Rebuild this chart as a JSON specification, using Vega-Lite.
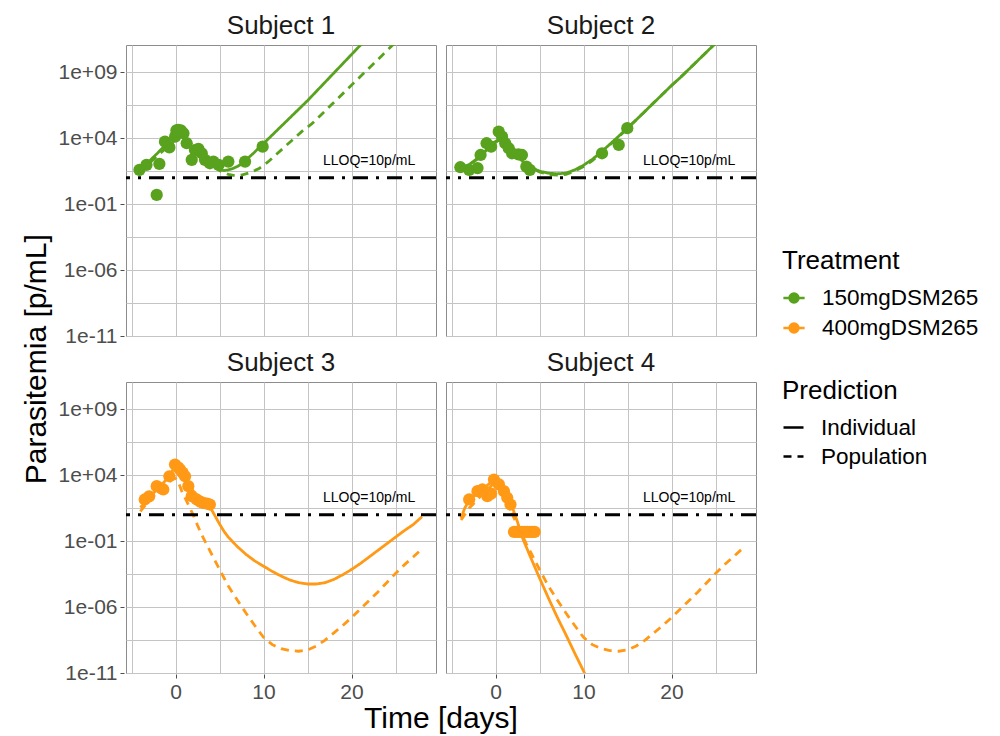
{
  "$schema": "https://vega.github.io/schema/vega-lite/v6.json",
  "background": "white",
  "padding": {"left": 22, "top": 12, "right": 5, "bottom": 0},
  "autosize": {"type": "pad"},
  "title": {"text": "Parasitemia [p/mL]", "orient": "left", "anchor": "middle", "fontSize": 30, "fontWeight": "normal", "color": "#000000", "offset": 6, "dx": 14, "font": "Liberation Sans"},
  "config": {
    "font": "Liberation Sans",
    "view": {"stroke": "#8c8c8c", "strokeWidth": 1},
    "axis": {"domain": false, "labelFontSize": 21, "labelColor": "#4d4d4d", "tickColor": "#4d4d4d", "tickSize": 4, "labelPadding": 3, "titleFontSize": 30, "titleFontWeight": "normal", "titleColor": "#000000", "gridColor": "#c4c4c4", "gridWidth": 1},
    "legend": {"titleFontSize": 26, "titleFontWeight": "normal", "titleColor": "#000000", "labelFontSize": 22.5, "labelColor": "#000000", "rowPadding": 6, "titlePadding": 12, "labelOffset": 16}
  },
  "data": {"values": [
    {"s":"Subject 1","t":"150mgDSM265","k":"obs","d":-4.1,"v":40},
    {"s":"Subject 1","t":"150mgDSM265","k":"obs","d":-3.3,"v":95},
    {"s":"Subject 1","t":"150mgDSM265","k":"obs","d":-1.84,"v":112},
    {"s":"Subject 1","t":"150mgDSM265","k":"obs","d":-2.14,"v":0.5},
    {"s":"Subject 1","t":"150mgDSM265","k":"obs","d":-1.2,"v":5500},
    {"s":"Subject 1","t":"150mgDSM265","k":"obs","d":-0.7,"v":2000},
    {"s":"Subject 1","t":"150mgDSM265","k":"obs","d":-0.05,"v":13200},
    {"s":"Subject 1","t":"150mgDSM265","k":"obs","d":0.1,"v":40000},
    {"s":"Subject 1","t":"150mgDSM265","k":"obs","d":0.3,"v":42700},
    {"s":"Subject 1","t":"150mgDSM265","k":"obs","d":0.6,"v":40000},
    {"s":"Subject 1","t":"150mgDSM265","k":"obs","d":0.9,"v":24000},
    {"s":"Subject 1","t":"150mgDSM265","k":"obs","d":1.27,"v":4170},
    {"s":"Subject 1","t":"150mgDSM265","k":"obs","d":1.84,"v":229},
    {"s":"Subject 1","t":"150mgDSM265","k":"obs","d":2.2,"v":1260},
    {"s":"Subject 1","t":"150mgDSM265","k":"obs","d":2.6,"v":1585},
    {"s":"Subject 1","t":"150mgDSM265","k":"obs","d":2.98,"v":724},
    {"s":"Subject 1","t":"150mgDSM265","k":"obs","d":3.35,"v":229},
    {"s":"Subject 1","t":"150mgDSM265","k":"obs","d":3.9,"v":126},
    {"s":"Subject 1","t":"150mgDSM265","k":"obs","d":4.3,"v":170},
    {"s":"Subject 1","t":"150mgDSM265","k":"obs","d":4.9,"v":95},
    {"s":"Subject 1","t":"150mgDSM265","k":"obs","d":6.0,"v":170},
    {"s":"Subject 1","t":"150mgDSM265","k":"obs","d":7.9,"v":170},
    {"s":"Subject 1","t":"150mgDSM265","k":"obs","d":9.9,"v":2290},

    {"s":"Subject 1","t":"150mgDSM265","k":"pred","p":"Individual","d":-4.1,"v":35.5},
    {"s":"Subject 1","t":"150mgDSM265","k":"pred","p":"Individual","d":-3.5,"v":79.4},
    {"s":"Subject 1","t":"150mgDSM265","k":"pred","p":"Individual","d":-3.0,"v":178},
    {"s":"Subject 1","t":"150mgDSM265","k":"pred","p":"Individual","d":-2.0,"v":794},
    {"s":"Subject 1","t":"150mgDSM265","k":"pred","p":"Individual","d":-1.0,"v":3981},
    {"s":"Subject 1","t":"150mgDSM265","k":"pred","p":"Individual","d":-0.3,"v":12590},
    {"s":"Subject 1","t":"150mgDSM265","k":"pred","p":"Individual","d":0.3,"v":22390},
    {"s":"Subject 1","t":"150mgDSM265","k":"pred","p":"Individual","d":0.8,"v":15850},
    {"s":"Subject 1","t":"150mgDSM265","k":"pred","p":"Individual","d":1.5,"v":3981},
    {"s":"Subject 1","t":"150mgDSM265","k":"pred","p":"Individual","d":2.0,"v":1585},
    {"s":"Subject 1","t":"150mgDSM265","k":"pred","p":"Individual","d":3.0,"v":316},
    {"s":"Subject 1","t":"150mgDSM265","k":"pred","p":"Individual","d":4.0,"v":89.1},
    {"s":"Subject 1","t":"150mgDSM265","k":"pred","p":"Individual","d":5.0,"v":39.8},
    {"s":"Subject 1","t":"150mgDSM265","k":"pred","p":"Individual","d":5.5,"v":35.5},
    {"s":"Subject 1","t":"150mgDSM265","k":"pred","p":"Individual","d":6.0,"v":39.8},
    {"s":"Subject 1","t":"150mgDSM265","k":"pred","p":"Individual","d":6.5,"v":50.1},
    {"s":"Subject 1","t":"150mgDSM265","k":"pred","p":"Individual","d":7.0,"v":70.8},
    {"s":"Subject 1","t":"150mgDSM265","k":"pred","p":"Individual","d":7.5,"v":112},
    {"s":"Subject 1","t":"150mgDSM265","k":"pred","p":"Individual","d":8.0,"v":224},
    {"s":"Subject 1","t":"150mgDSM265","k":"pred","p":"Individual","d":8.5,"v":447},
    {"s":"Subject 1","t":"150mgDSM265","k":"pred","p":"Individual","d":9.0,"v":891},
    {"s":"Subject 1","t":"150mgDSM265","k":"pred","p":"Individual","d":9.5,"v":1995},
    {"s":"Subject 1","t":"150mgDSM265","k":"pred","p":"Individual","d":10,"v":3981},
    {"s":"Subject 1","t":"150mgDSM265","k":"pred","p":"Individual","d":11,"v":17780},
    {"s":"Subject 1","t":"150mgDSM265","k":"pred","p":"Individual","d":12,"v":79430},
    {"s":"Subject 1","t":"150mgDSM265","k":"pred","p":"Individual","d":13,"v":354800},
    {"s":"Subject 1","t":"150mgDSM265","k":"pred","p":"Individual","d":14,"v":1.585e6},
    {"s":"Subject 1","t":"150mgDSM265","k":"pred","p":"Individual","d":15,"v":7.079e6},
    {"s":"Subject 1","t":"150mgDSM265","k":"pred","p":"Individual","d":16,"v":3.548e7},
    {"s":"Subject 1","t":"150mgDSM265","k":"pred","p":"Individual","d":17,"v":1.778e8},
    {"s":"Subject 1","t":"150mgDSM265","k":"pred","p":"Individual","d":18,"v":8.913e8},
    {"s":"Subject 1","t":"150mgDSM265","k":"pred","p":"Individual","d":19,"v":4.467e9},
    {"s":"Subject 1","t":"150mgDSM265","k":"pred","p":"Individual","d":20,"v":2.239e10},
    {"s":"Subject 1","t":"150mgDSM265","k":"pred","p":"Individual","d":21,"v":1.122e11},
    {"s":"Subject 1","t":"150mgDSM265","k":"pred","p":"Individual","d":22,"v":5.623e11},

    {"s":"Subject 1","t":"150mgDSM265","k":"pred","p":"Population","d":-4.1,"v":31.6},
    {"s":"Subject 1","t":"150mgDSM265","k":"pred","p":"Population","d":-3,"v":126},
    {"s":"Subject 1","t":"150mgDSM265","k":"pred","p":"Population","d":-2,"v":501},
    {"s":"Subject 1","t":"150mgDSM265","k":"pred","p":"Population","d":-1,"v":1995},
    {"s":"Subject 1","t":"150mgDSM265","k":"pred","p":"Population","d":0,"v":7943},
    {"s":"Subject 1","t":"150mgDSM265","k":"pred","p":"Population","d":0.5,"v":10000},
    {"s":"Subject 1","t":"150mgDSM265","k":"pred","p":"Population","d":1,"v":6310},
    {"s":"Subject 1","t":"150mgDSM265","k":"pred","p":"Population","d":2,"v":1259},
    {"s":"Subject 1","t":"150mgDSM265","k":"pred","p":"Population","d":3,"v":316},
    {"s":"Subject 1","t":"150mgDSM265","k":"pred","p":"Population","d":4,"v":100},
    {"s":"Subject 1","t":"150mgDSM265","k":"pred","p":"Population","d":5,"v":35.5},
    {"s":"Subject 1","t":"150mgDSM265","k":"pred","p":"Population","d":6,"v":17.8},
    {"s":"Subject 1","t":"150mgDSM265","k":"pred","p":"Population","d":6.8,"v":14.1},
    {"s":"Subject 1","t":"150mgDSM265","k":"pred","p":"Population","d":7.5,"v":15.8},
    {"s":"Subject 1","t":"150mgDSM265","k":"pred","p":"Population","d":8.5,"v":25.1},
    {"s":"Subject 1","t":"150mgDSM265","k":"pred","p":"Population","d":9.5,"v":50.1},
    {"s":"Subject 1","t":"150mgDSM265","k":"pred","p":"Population","d":10.5,"v":158},
    {"s":"Subject 1","t":"150mgDSM265","k":"pred","p":"Population","d":11.5,"v":631},
    {"s":"Subject 1","t":"150mgDSM265","k":"pred","p":"Population","d":12.5,"v":2512},
    {"s":"Subject 1","t":"150mgDSM265","k":"pred","p":"Population","d":13.5,"v":10000},
    {"s":"Subject 1","t":"150mgDSM265","k":"pred","p":"Population","d":14.5,"v":39810},
    {"s":"Subject 1","t":"150mgDSM265","k":"pred","p":"Population","d":15.5,"v":125900},
    {"s":"Subject 1","t":"150mgDSM265","k":"pred","p":"Population","d":16.5,"v":562300},
    {"s":"Subject 1","t":"150mgDSM265","k":"pred","p":"Population","d":17.5,"v":2.512e6},
    {"s":"Subject 1","t":"150mgDSM265","k":"pred","p":"Population","d":18.5,"v":1.122e7},
    {"s":"Subject 1","t":"150mgDSM265","k":"pred","p":"Population","d":19.5,"v":5.012e7},
    {"s":"Subject 1","t":"150mgDSM265","k":"pred","p":"Population","d":20.5,"v":2.239e8},
    {"s":"Subject 1","t":"150mgDSM265","k":"pred","p":"Population","d":21.5,"v":1e9},
    {"s":"Subject 1","t":"150mgDSM265","k":"pred","p":"Population","d":22.5,"v":4.467e9},
    {"s":"Subject 1","t":"150mgDSM265","k":"pred","p":"Population","d":23.5,"v":1.995e10},
    {"s":"Subject 1","t":"150mgDSM265","k":"pred","p":"Population","d":24.5,"v":8.913e10},
    {"s":"Subject 1","t":"150mgDSM265","k":"pred","p":"Population","d":25.5,"v":3.981e11},

    {"s":"Subject 2","t":"150mgDSM265","k":"obs","d":-4.0,"v":63},
    {"s":"Subject 2","t":"150mgDSM265","k":"obs","d":-3.0,"v":40},
    {"s":"Subject 2","t":"150mgDSM265","k":"obs","d":-2.05,"v":54},
    {"s":"Subject 2","t":"150mgDSM265","k":"obs","d":-1.7,"v":537},
    {"s":"Subject 2","t":"150mgDSM265","k":"obs","d":-1.02,"v":4170},
    {"s":"Subject 2","t":"150mgDSM265","k":"obs","d":-0.5,"v":2290},
    {"s":"Subject 2","t":"150mgDSM265","k":"obs","d":0.36,"v":31600},
    {"s":"Subject 2","t":"150mgDSM265","k":"obs","d":0.74,"v":13200},
    {"s":"Subject 2","t":"150mgDSM265","k":"obs","d":1.1,"v":4170},
    {"s":"Subject 2","t":"150mgDSM265","k":"obs","d":1.5,"v":1740},
    {"s":"Subject 2","t":"150mgDSM265","k":"obs","d":1.88,"v":724},
    {"s":"Subject 2","t":"150mgDSM265","k":"obs","d":2.6,"v":600},
    {"s":"Subject 2","t":"150mgDSM265","k":"obs","d":3.0,"v":537},
    {"s":"Subject 2","t":"150mgDSM265","k":"obs","d":3.5,"v":71},
    {"s":"Subject 2","t":"150mgDSM265","k":"obs","d":3.9,"v":40},
    {"s":"Subject 2","t":"150mgDSM265","k":"obs","d":12.1,"v":724},
    {"s":"Subject 2","t":"150mgDSM265","k":"obs","d":14.0,"v":3090},
    {"s":"Subject 2","t":"150mgDSM265","k":"obs","d":14.97,"v":57500},

    {"s":"Subject 2","t":"150mgDSM265","k":"pred","p":"Individual","d":-4.1,"v":50.1},
    {"s":"Subject 2","t":"150mgDSM265","k":"pred","p":"Individual","d":-3,"v":100},
    {"s":"Subject 2","t":"150mgDSM265","k":"pred","p":"Individual","d":-2,"v":316},
    {"s":"Subject 2","t":"150mgDSM265","k":"pred","p":"Individual","d":-1,"v":1413},
    {"s":"Subject 2","t":"150mgDSM265","k":"pred","p":"Individual","d":0,"v":5623},
    {"s":"Subject 2","t":"150mgDSM265","k":"pred","p":"Individual","d":0.4,"v":7943},
    {"s":"Subject 2","t":"150mgDSM265","k":"pred","p":"Individual","d":1,"v":3981},
    {"s":"Subject 2","t":"150mgDSM265","k":"pred","p":"Individual","d":2,"v":794},
    {"s":"Subject 2","t":"150mgDSM265","k":"pred","p":"Individual","d":3,"v":200},
    {"s":"Subject 2","t":"150mgDSM265","k":"pred","p":"Individual","d":4,"v":63.1},
    {"s":"Subject 2","t":"150mgDSM265","k":"pred","p":"Individual","d":5,"v":31.6},
    {"s":"Subject 2","t":"150mgDSM265","k":"pred","p":"Individual","d":6,"v":22.4},
    {"s":"Subject 2","t":"150mgDSM265","k":"pred","p":"Individual","d":7,"v":20},
    {"s":"Subject 2","t":"150mgDSM265","k":"pred","p":"Individual","d":8,"v":22.4},
    {"s":"Subject 2","t":"150mgDSM265","k":"pred","p":"Individual","d":9,"v":39.8},
    {"s":"Subject 2","t":"150mgDSM265","k":"pred","p":"Individual","d":10,"v":89.1},
    {"s":"Subject 2","t":"150mgDSM265","k":"pred","p":"Individual","d":11,"v":251},
    {"s":"Subject 2","t":"150mgDSM265","k":"pred","p":"Individual","d":12,"v":891},
    {"s":"Subject 2","t":"150mgDSM265","k":"pred","p":"Individual","d":13,"v":3548},
    {"s":"Subject 2","t":"150mgDSM265","k":"pred","p":"Individual","d":14,"v":14130},
    {"s":"Subject 2","t":"150mgDSM265","k":"pred","p":"Individual","d":15,"v":63100},
    {"s":"Subject 2","t":"150mgDSM265","k":"pred","p":"Individual","d":16,"v":251200},
    {"s":"Subject 2","t":"150mgDSM265","k":"pred","p":"Individual","d":17,"v":1.122e6},
    {"s":"Subject 2","t":"150mgDSM265","k":"pred","p":"Individual","d":18,"v":5.012e6},
    {"s":"Subject 2","t":"150mgDSM265","k":"pred","p":"Individual","d":19,"v":2.239e7},
    {"s":"Subject 2","t":"150mgDSM265","k":"pred","p":"Individual","d":20,"v":1e8},
    {"s":"Subject 2","t":"150mgDSM265","k":"pred","p":"Individual","d":21,"v":3.981e8},
    {"s":"Subject 2","t":"150mgDSM265","k":"pred","p":"Individual","d":22,"v":1.778e9},
    {"s":"Subject 2","t":"150mgDSM265","k":"pred","p":"Individual","d":23,"v":7.943e9},
    {"s":"Subject 2","t":"150mgDSM265","k":"pred","p":"Individual","d":24,"v":3.548e10},
    {"s":"Subject 2","t":"150mgDSM265","k":"pred","p":"Individual","d":25,"v":1.585e11},

    {"s":"Subject 2","t":"150mgDSM265","k":"pred","p":"Population","d":-4.1,"v":44.7},
    {"s":"Subject 2","t":"150mgDSM265","k":"pred","p":"Population","d":-3,"v":89.1},
    {"s":"Subject 2","t":"150mgDSM265","k":"pred","p":"Population","d":-2,"v":282},
    {"s":"Subject 2","t":"150mgDSM265","k":"pred","p":"Population","d":-1,"v":1259},
    {"s":"Subject 2","t":"150mgDSM265","k":"pred","p":"Population","d":0,"v":5012},
    {"s":"Subject 2","t":"150mgDSM265","k":"pred","p":"Population","d":0.4,"v":7079},
    {"s":"Subject 2","t":"150mgDSM265","k":"pred","p":"Population","d":1,"v":3548},
    {"s":"Subject 2","t":"150mgDSM265","k":"pred","p":"Population","d":2,"v":708},
    {"s":"Subject 2","t":"150mgDSM265","k":"pred","p":"Population","d":3,"v":178},
    {"s":"Subject 2","t":"150mgDSM265","k":"pred","p":"Population","d":4,"v":56.2},
    {"s":"Subject 2","t":"150mgDSM265","k":"pred","p":"Population","d":5,"v":28.2},
    {"s":"Subject 2","t":"150mgDSM265","k":"pred","p":"Population","d":6,"v":17.8},
    {"s":"Subject 2","t":"150mgDSM265","k":"pred","p":"Population","d":7,"v":15.8},
    {"s":"Subject 2","t":"150mgDSM265","k":"pred","p":"Population","d":8,"v":17.8},
    {"s":"Subject 2","t":"150mgDSM265","k":"pred","p":"Population","d":9,"v":31.6},
    {"s":"Subject 2","t":"150mgDSM265","k":"pred","p":"Population","d":10,"v":70.8},
    {"s":"Subject 2","t":"150mgDSM265","k":"pred","p":"Population","d":11,"v":200},
    {"s":"Subject 2","t":"150mgDSM265","k":"pred","p":"Population","d":12,"v":794},
    {"s":"Subject 2","t":"150mgDSM265","k":"pred","p":"Population","d":13,"v":3162},
    {"s":"Subject 2","t":"150mgDSM265","k":"pred","p":"Population","d":14,"v":12590},
    {"s":"Subject 2","t":"150mgDSM265","k":"pred","p":"Population","d":15,"v":56230},
    {"s":"Subject 2","t":"150mgDSM265","k":"pred","p":"Population","d":16,"v":251200},
    {"s":"Subject 2","t":"150mgDSM265","k":"pred","p":"Population","d":17,"v":1.122e6},
    {"s":"Subject 2","t":"150mgDSM265","k":"pred","p":"Population","d":18,"v":5.012e6},
    {"s":"Subject 2","t":"150mgDSM265","k":"pred","p":"Population","d":19,"v":2.239e7},
    {"s":"Subject 2","t":"150mgDSM265","k":"pred","p":"Population","d":20,"v":1e8},
    {"s":"Subject 2","t":"150mgDSM265","k":"pred","p":"Population","d":21,"v":3.981e8},
    {"s":"Subject 2","t":"150mgDSM265","k":"pred","p":"Population","d":22,"v":1.778e9},
    {"s":"Subject 2","t":"150mgDSM265","k":"pred","p":"Population","d":23,"v":7.943e9},
    {"s":"Subject 2","t":"150mgDSM265","k":"pred","p":"Population","d":24,"v":3.548e10},
    {"s":"Subject 2","t":"150mgDSM265","k":"pred","p":"Population","d":25,"v":1.585e11},

    {"s":"Subject 3","t":"400mgDSM265","k":"obs","d":-3.5,"v":145},
    {"s":"Subject 3","t":"400mgDSM265","k":"obs","d":-3.0,"v":251},
    {"s":"Subject 3","t":"400mgDSM265","k":"obs","d":-2.14,"v":1480},
    {"s":"Subject 3","t":"400mgDSM265","k":"obs","d":-1.6,"v":1000},
    {"s":"Subject 3","t":"400mgDSM265","k":"obs","d":-1.39,"v":830},
    {"s":"Subject 3","t":"400mgDSM265","k":"obs","d":-0.7,"v":8300},
    {"s":"Subject 3","t":"400mgDSM265","k":"obs","d":-0.06,"v":64600},
    {"s":"Subject 3","t":"400mgDSM265","k":"obs","d":0.3,"v":39800},
    {"s":"Subject 3","t":"400mgDSM265","k":"obs","d":0.51,"v":26900},
    {"s":"Subject 3","t":"400mgDSM265","k":"obs","d":0.8,"v":15850},
    {"s":"Subject 3","t":"400mgDSM265","k":"obs","d":1.08,"v":8300},
    {"s":"Subject 3","t":"400mgDSM265","k":"obs","d":1.45,"v":1480},
    {"s":"Subject 3","t":"400mgDSM265","k":"obs","d":1.84,"v":257},
    {"s":"Subject 3","t":"400mgDSM265","k":"obs","d":2.4,"v":145},
    {"s":"Subject 3","t":"400mgDSM265","k":"obs","d":2.8,"v":100},
    {"s":"Subject 3","t":"400mgDSM265","k":"obs","d":3.16,"v":81},
    {"s":"Subject 3","t":"400mgDSM265","k":"obs","d":3.6,"v":71},
    {"s":"Subject 3","t":"400mgDSM265","k":"obs","d":3.9,"v":60},

    {"s":"Subject 3","t":"400mgDSM265","k":"pred","p":"Individual","d":-4.0,"v":35.5},
    {"s":"Subject 3","t":"400mgDSM265","k":"pred","p":"Individual","d":-3.5,"v":79.4},
    {"s":"Subject 3","t":"400mgDSM265","k":"pred","p":"Individual","d":-3,"v":200},
    {"s":"Subject 3","t":"400mgDSM265","k":"pred","p":"Individual","d":-2,"v":1000},
    {"s":"Subject 3","t":"400mgDSM265","k":"pred","p":"Individual","d":-1,"v":5012},
    {"s":"Subject 3","t":"400mgDSM265","k":"pred","p":"Individual","d":-0.3,"v":25120},
    {"s":"Subject 3","t":"400mgDSM265","k":"pred","p":"Individual","d":0,"v":39810},
    {"s":"Subject 3","t":"400mgDSM265","k":"pred","p":"Individual","d":0.5,"v":22390},
    {"s":"Subject 3","t":"400mgDSM265","k":"pred","p":"Individual","d":1,"v":7943},
    {"s":"Subject 3","t":"400mgDSM265","k":"pred","p":"Individual","d":1.5,"v":1995},
    {"s":"Subject 3","t":"400mgDSM265","k":"pred","p":"Individual","d":2,"v":631},
    {"s":"Subject 3","t":"400mgDSM265","k":"pred","p":"Individual","d":2.5,"v":282},
    {"s":"Subject 3","t":"400mgDSM265","k":"pred","p":"Individual","d":3,"v":141},
    {"s":"Subject 3","t":"400mgDSM265","k":"pred","p":"Individual","d":3.5,"v":79.4},
    {"s":"Subject 3","t":"400mgDSM265","k":"pred","p":"Individual","d":4,"v":31.6},
    {"s":"Subject 3","t":"400mgDSM265","k":"pred","p":"Individual","d":4.5,"v":7.94},
    {"s":"Subject 3","t":"400mgDSM265","k":"pred","p":"Individual","d":5,"v":2.0},
    {"s":"Subject 3","t":"400mgDSM265","k":"pred","p":"Individual","d":5.5,"v":0.562},
    {"s":"Subject 3","t":"400mgDSM265","k":"pred","p":"Individual","d":6,"v":0.2},
    {"s":"Subject 3","t":"400mgDSM265","k":"pred","p":"Individual","d":7,"v":0.0398},
    {"s":"Subject 3","t":"400mgDSM265","k":"pred","p":"Individual","d":8,"v":0.01},
    {"s":"Subject 3","t":"400mgDSM265","k":"pred","p":"Individual","d":9,"v":0.00316},
    {"s":"Subject 3","t":"400mgDSM265","k":"pred","p":"Individual","d":10,"v":0.00126},
    {"s":"Subject 3","t":"400mgDSM265","k":"pred","p":"Individual","d":11,"v":5.01e-4},
    {"s":"Subject 3","t":"400mgDSM265","k":"pred","p":"Individual","d":12,"v":2.24e-4},
    {"s":"Subject 3","t":"400mgDSM265","k":"pred","p":"Individual","d":13,"v":1.12e-4},
    {"s":"Subject 3","t":"400mgDSM265","k":"pred","p":"Individual","d":14,"v":7.08e-5},
    {"s":"Subject 3","t":"400mgDSM265","k":"pred","p":"Individual","d":15,"v":5.62e-5},
    {"s":"Subject 3","t":"400mgDSM265","k":"pred","p":"Individual","d":16,"v":5.62e-5},
    {"s":"Subject 3","t":"400mgDSM265","k":"pred","p":"Individual","d":17,"v":7.08e-5},
    {"s":"Subject 3","t":"400mgDSM265","k":"pred","p":"Individual","d":18,"v":1.26e-4},
    {"s":"Subject 3","t":"400mgDSM265","k":"pred","p":"Individual","d":19,"v":2.82e-4},
    {"s":"Subject 3","t":"400mgDSM265","k":"pred","p":"Individual","d":20,"v":7.08e-4},
    {"s":"Subject 3","t":"400mgDSM265","k":"pred","p":"Individual","d":21,"v":2.0e-3},
    {"s":"Subject 3","t":"400mgDSM265","k":"pred","p":"Individual","d":22,"v":6.31e-3},
    {"s":"Subject 3","t":"400mgDSM265","k":"pred","p":"Individual","d":23,"v":0.02},
    {"s":"Subject 3","t":"400mgDSM265","k":"pred","p":"Individual","d":24,"v":0.0631},
    {"s":"Subject 3","t":"400mgDSM265","k":"pred","p":"Individual","d":25,"v":0.2},
    {"s":"Subject 3","t":"400mgDSM265","k":"pred","p":"Individual","d":26,"v":0.631},
    {"s":"Subject 3","t":"400mgDSM265","k":"pred","p":"Individual","d":27,"v":1.778},
    {"s":"Subject 3","t":"400mgDSM265","k":"pred","p":"Individual","d":28,"v":7.08},

    {"s":"Subject 3","t":"400mgDSM265","k":"pred","p":"Population","d":-4.0,"v":17.8},
    {"s":"Subject 3","t":"400mgDSM265","k":"pred","p":"Population","d":-3,"v":126},
    {"s":"Subject 3","t":"400mgDSM265","k":"pred","p":"Population","d":-2,"v":562},
    {"s":"Subject 3","t":"400mgDSM265","k":"pred","p":"Population","d":-1,"v":2239},
    {"s":"Subject 3","t":"400mgDSM265","k":"pred","p":"Population","d":-0.3,"v":5012},
    {"s":"Subject 3","t":"400mgDSM265","k":"pred","p":"Population","d":0,"v":5623},
    {"s":"Subject 3","t":"400mgDSM265","k":"pred","p":"Population","d":0.3,"v":3162},
    {"s":"Subject 3","t":"400mgDSM265","k":"pred","p":"Population","d":0.7,"v":631},
    {"s":"Subject 3","t":"400mgDSM265","k":"pred","p":"Population","d":1,"v":251},
    {"s":"Subject 3","t":"400mgDSM265","k":"pred","p":"Population","d":1.5,"v":50.1},
    {"s":"Subject 3","t":"400mgDSM265","k":"pred","p":"Population","d":2,"v":10},
    {"s":"Subject 3","t":"400mgDSM265","k":"pred","p":"Population","d":2.5,"v":1.585},
    {"s":"Subject 3","t":"400mgDSM265","k":"pred","p":"Population","d":3,"v":0.282},
    {"s":"Subject 3","t":"400mgDSM265","k":"pred","p":"Population","d":3.5,"v":0.0631},
    {"s":"Subject 3","t":"400mgDSM265","k":"pred","p":"Population","d":4,"v":0.0141},
    {"s":"Subject 3","t":"400mgDSM265","k":"pred","p":"Population","d":5,"v":7.08e-4},
    {"s":"Subject 3","t":"400mgDSM265","k":"pred","p":"Population","d":6,"v":3.98e-5},
    {"s":"Subject 3","t":"400mgDSM265","k":"pred","p":"Population","d":7,"v":3.55e-6},
    {"s":"Subject 3","t":"400mgDSM265","k":"pred","p":"Population","d":8,"v":3.55e-7},
    {"s":"Subject 3","t":"400mgDSM265","k":"pred","p":"Population","d":9,"v":3.98e-8},
    {"s":"Subject 3","t":"400mgDSM265","k":"pred","p":"Population","d":10,"v":5.01e-9},
    {"s":"Subject 3","t":"400mgDSM265","k":"pred","p":"Population","d":11,"v":1.41e-9},
    {"s":"Subject 3","t":"400mgDSM265","k":"pred","p":"Population","d":12,"v":7.08e-10},
    {"s":"Subject 3","t":"400mgDSM265","k":"pred","p":"Population","d":13,"v":5.01e-10},
    {"s":"Subject 3","t":"400mgDSM265","k":"pred","p":"Population","d":14,"v":4.47e-10},
    {"s":"Subject 3","t":"400mgDSM265","k":"pred","p":"Population","d":15,"v":5.62e-10},
    {"s":"Subject 3","t":"400mgDSM265","k":"pred","p":"Population","d":16,"v":1.12e-9},
    {"s":"Subject 3","t":"400mgDSM265","k":"pred","p":"Population","d":17,"v":3.16e-9},
    {"s":"Subject 3","t":"400mgDSM265","k":"pred","p":"Population","d":18,"v":1.12e-8},
    {"s":"Subject 3","t":"400mgDSM265","k":"pred","p":"Population","d":19,"v":3.98e-8},
    {"s":"Subject 3","t":"400mgDSM265","k":"pred","p":"Population","d":20,"v":1.585e-7},
    {"s":"Subject 3","t":"400mgDSM265","k":"pred","p":"Population","d":21,"v":7.08e-7},
    {"s":"Subject 3","t":"400mgDSM265","k":"pred","p":"Population","d":22,"v":3.16e-6},
    {"s":"Subject 3","t":"400mgDSM265","k":"pred","p":"Population","d":23,"v":1.41e-5},
    {"s":"Subject 3","t":"400mgDSM265","k":"pred","p":"Population","d":24,"v":7.08e-5},
    {"s":"Subject 3","t":"400mgDSM265","k":"pred","p":"Population","d":25,"v":3.55e-4},
    {"s":"Subject 3","t":"400mgDSM265","k":"pred","p":"Population","d":26,"v":1.585e-3},
    {"s":"Subject 3","t":"400mgDSM265","k":"pred","p":"Population","d":27,"v":6.31e-3},
    {"s":"Subject 3","t":"400mgDSM265","k":"pred","p":"Population","d":28,"v":0.0251},

    {"s":"Subject 4","t":"400mgDSM265","k":"obs","d":-3.0,"v":145},
    {"s":"Subject 4","t":"400mgDSM265","k":"obs","d":-2.05,"v":617},
    {"s":"Subject 4","t":"400mgDSM265","k":"obs","d":-1.5,"v":832},
    {"s":"Subject 4","t":"400mgDSM265","k":"obs","d":-0.93,"v":257},
    {"s":"Subject 4","t":"400mgDSM265","k":"obs","d":-0.5,"v":398},
    {"s":"Subject 4","t":"400mgDSM265","k":"obs","d":-0.18,"v":4680},
    {"s":"Subject 4","t":"400mgDSM265","k":"obs","d":0.38,"v":2000},
    {"s":"Subject 4","t":"400mgDSM265","k":"obs","d":0.95,"v":617},
    {"s":"Subject 4","t":"400mgDSM265","k":"obs","d":1.33,"v":195},
    {"s":"Subject 4","t":"400mgDSM265","k":"obs","d":1.7,"v":60},
    {"s":"Subject 4","t":"400mgDSM265","k":"obs","d":2.1,"v":0.5},
    {"s":"Subject 4","t":"400mgDSM265","k":"obs","d":2.4,"v":0.5},
    {"s":"Subject 4","t":"400mgDSM265","k":"obs","d":2.7,"v":0.5},
    {"s":"Subject 4","t":"400mgDSM265","k":"obs","d":3.0,"v":0.5},
    {"s":"Subject 4","t":"400mgDSM265","k":"obs","d":3.3,"v":0.5},
    {"s":"Subject 4","t":"400mgDSM265","k":"obs","d":3.6,"v":0.5},
    {"s":"Subject 4","t":"400mgDSM265","k":"obs","d":3.9,"v":0.5},
    {"s":"Subject 4","t":"400mgDSM265","k":"obs","d":4.2,"v":0.5},
    {"s":"Subject 4","t":"400mgDSM265","k":"obs","d":4.45,"v":0.5},

    {"s":"Subject 4","t":"400mgDSM265","k":"pred","p":"Individual","d":-3.92,"v":5.62},
    {"s":"Subject 4","t":"400mgDSM265","k":"pred","p":"Individual","d":-3.5,"v":31.6},
    {"s":"Subject 4","t":"400mgDSM265","k":"pred","p":"Individual","d":-3,"v":126},
    {"s":"Subject 4","t":"400mgDSM265","k":"pred","p":"Individual","d":-2,"v":501},
    {"s":"Subject 4","t":"400mgDSM265","k":"pred","p":"Individual","d":-1,"v":1585},
    {"s":"Subject 4","t":"400mgDSM265","k":"pred","p":"Individual","d":-0.2,"v":4467},
    {"s":"Subject 4","t":"400mgDSM265","k":"pred","p":"Individual","d":0.3,"v":1995},
    {"s":"Subject 4","t":"400mgDSM265","k":"pred","p":"Individual","d":1,"v":631},
    {"s":"Subject 4","t":"400mgDSM265","k":"pred","p":"Individual","d":1.5,"v":200},
    {"s":"Subject 4","t":"400mgDSM265","k":"pred","p":"Individual","d":2,"v":25.1},
    {"s":"Subject 4","t":"400mgDSM265","k":"pred","p":"Individual","d":2.5,"v":2.82},
    {"s":"Subject 4","t":"400mgDSM265","k":"pred","p":"Individual","d":3,"v":0.224},
    {"s":"Subject 4","t":"400mgDSM265","k":"pred","p":"Individual","d":3.5,"v":0.0355},
    {"s":"Subject 4","t":"400mgDSM265","k":"pred","p":"Individual","d":4,"v":5.62e-3},
    {"s":"Subject 4","t":"400mgDSM265","k":"pred","p":"Individual","d":5,"v":1.585e-4},
    {"s":"Subject 4","t":"400mgDSM265","k":"pred","p":"Individual","d":6,"v":5.01e-6},
    {"s":"Subject 4","t":"400mgDSM265","k":"pred","p":"Individual","d":7,"v":1.78e-7},
    {"s":"Subject 4","t":"400mgDSM265","k":"pred","p":"Individual","d":8,"v":7.94e-9},
    {"s":"Subject 4","t":"400mgDSM265","k":"pred","p":"Individual","d":9,"v":3.16e-10},
    {"s":"Subject 4","t":"400mgDSM265","k":"pred","p":"Individual","d":10,"v":1.41e-11},
    {"s":"Subject 4","t":"400mgDSM265","k":"pred","p":"Individual","d":10.5,"v":3.16e-12},

    {"s":"Subject 4","t":"400mgDSM265","k":"pred","p":"Population","d":-3.92,"v":3.98},
    {"s":"Subject 4","t":"400mgDSM265","k":"pred","p":"Population","d":-3,"v":31.6},
    {"s":"Subject 4","t":"400mgDSM265","k":"pred","p":"Population","d":-2,"v":158},
    {"s":"Subject 4","t":"400mgDSM265","k":"pred","p":"Population","d":-1,"v":794},
    {"s":"Subject 4","t":"400mgDSM265","k":"pred","p":"Population","d":-0.3,"v":1995},
    {"s":"Subject 4","t":"400mgDSM265","k":"pred","p":"Population","d":0,"v":2239},
    {"s":"Subject 4","t":"400mgDSM265","k":"pred","p":"Population","d":0.5,"v":794},
    {"s":"Subject 4","t":"400mgDSM265","k":"pred","p":"Population","d":1,"v":200},
    {"s":"Subject 4","t":"400mgDSM265","k":"pred","p":"Population","d":1.5,"v":39.8},
    {"s":"Subject 4","t":"400mgDSM265","k":"pred","p":"Population","d":2,"v":7.94},
    {"s":"Subject 4","t":"400mgDSM265","k":"pred","p":"Population","d":2.5,"v":1.585},
    {"s":"Subject 4","t":"400mgDSM265","k":"pred","p":"Population","d":3,"v":0.316},
    {"s":"Subject 4","t":"400mgDSM265","k":"pred","p":"Population","d":3.5,"v":0.0631},
    {"s":"Subject 4","t":"400mgDSM265","k":"pred","p":"Population","d":4,"v":0.0141},
    {"s":"Subject 4","t":"400mgDSM265","k":"pred","p":"Population","d":5,"v":7.08e-4},
    {"s":"Subject 4","t":"400mgDSM265","k":"pred","p":"Population","d":6,"v":3.98e-5},
    {"s":"Subject 4","t":"400mgDSM265","k":"pred","p":"Population","d":7,"v":3.55e-6},
    {"s":"Subject 4","t":"400mgDSM265","k":"pred","p":"Population","d":8,"v":3.55e-7},
    {"s":"Subject 4","t":"400mgDSM265","k":"pred","p":"Population","d":9,"v":3.98e-8},
    {"s":"Subject 4","t":"400mgDSM265","k":"pred","p":"Population","d":10,"v":5.01e-9},
    {"s":"Subject 4","t":"400mgDSM265","k":"pred","p":"Population","d":11,"v":1.41e-9},
    {"s":"Subject 4","t":"400mgDSM265","k":"pred","p":"Population","d":12,"v":7.08e-10},
    {"s":"Subject 4","t":"400mgDSM265","k":"pred","p":"Population","d":13,"v":5.01e-10},
    {"s":"Subject 4","t":"400mgDSM265","k":"pred","p":"Population","d":14,"v":4.47e-10},
    {"s":"Subject 4","t":"400mgDSM265","k":"pred","p":"Population","d":15,"v":5.62e-10},
    {"s":"Subject 4","t":"400mgDSM265","k":"pred","p":"Population","d":16,"v":1.12e-9},
    {"s":"Subject 4","t":"400mgDSM265","k":"pred","p":"Population","d":17,"v":3.16e-9},
    {"s":"Subject 4","t":"400mgDSM265","k":"pred","p":"Population","d":18,"v":1.12e-8},
    {"s":"Subject 4","t":"400mgDSM265","k":"pred","p":"Population","d":19,"v":3.98e-8},
    {"s":"Subject 4","t":"400mgDSM265","k":"pred","p":"Population","d":20,"v":1.585e-7},
    {"s":"Subject 4","t":"400mgDSM265","k":"pred","p":"Population","d":21,"v":7.08e-7},
    {"s":"Subject 4","t":"400mgDSM265","k":"pred","p":"Population","d":22,"v":3.16e-6},
    {"s":"Subject 4","t":"400mgDSM265","k":"pred","p":"Population","d":23,"v":1.41e-5},
    {"s":"Subject 4","t":"400mgDSM265","k":"pred","p":"Population","d":24,"v":7.08e-5},
    {"s":"Subject 4","t":"400mgDSM265","k":"pred","p":"Population","d":25,"v":3.55e-4},
    {"s":"Subject 4","t":"400mgDSM265","k":"pred","p":"Population","d":26,"v":1.585e-3},
    {"s":"Subject 4","t":"400mgDSM265","k":"pred","p":"Population","d":27,"v":6.31e-3},
    {"s":"Subject 4","t":"400mgDSM265","k":"pred","p":"Population","d":28,"v":0.0251},

    {"s":"Subject 1","t":"150mgDSM265","k":"lloq","v":10},
    {"s":"Subject 2","t":"150mgDSM265","k":"lloq","v":10},
    {"s":"Subject 3","t":"400mgDSM265","k":"lloq","v":10},
    {"s":"Subject 4","t":"400mgDSM265","k":"lloq","v":10}
  ]},
  "facet": {"field": "s", "type": "nominal", "title": "Time [days]",
    "header": {"titleOrient": "bottom", "titleFontSize": 30, "titleFontWeight": "normal", "titleColor": "#000000", "titlePadding": 2, "labelFontSize": 26, "labelColor": "#1a1a1a", "labelPadding": 6}},
  "columns": 2,
  "spacing": {"column": 6, "row": 12},
  "spec": {
    "width": 310,
    "height": 291,
    "layer": [
      {
        "transform": [{"filter": "datum.k == 'obs'"}],
        "mark": {"type": "point", "filled": true, "size": 150, "opacity": 1},
        "encoding": {
          "x": {"field": "d", "type": "quantitative"},
          "y": {"field": "v", "type": "quantitative"},
          "color": {"field": "t", "type": "nominal"}
        }
      },
      {
        "transform": [{"filter": "datum.k == 'pred'"}],
        "mark": {"type": "line", "strokeWidth": 2.8, "clip": true},
        "encoding": {
          "x": {"field": "d", "type": "quantitative",
            "scale": {"domain": [-5.63, 29.6], "nice": false, "zero": false},
            "axis": {"title": null, "values": [-5, 0, 5, 10, 15, 20, 25],
              "labelExpr": "datum.value % 10 == 0 ? datum.label : ''",
              "tickOpacity": {"condition": {"test": "datum.value % 10 != 0", "value": 0}, "value": 1}}},
          "y": {"field": "v", "type": "quantitative",
            "scale": {"type": "log", "domain": [1e-11, 1.175e11], "nice": false},
            "axis": {"title": null,
              "values": [1e-11, 3.1623e-9, 1e-6, 3.1623e-4, 0.1, 31.623, 1e4, 3.1623e6, 1e9],
              "labelExpr": "abs(log(datum.value)/LN10 - round(log(datum.value)/LN10)) > 0.25 ? '' : ('1e' + (round(log(datum.value)/LN10) < 0 ? '-' : '+') + (abs(round(log(datum.value)/LN10)) < 10 ? '0' : '') + abs(round(log(datum.value)/LN10)))",
              "tickOpacity": {"condition": {"test": "abs(log(datum.value)/LN10 - round(log(datum.value)/LN10)) > 0.25", "value": 0}, "value": 1}}},
          "color": {"field": "t", "type": "nominal",
            "scale": {"domain": ["150mgDSM265", "400mgDSM265"], "range": ["#58A21E", "#FF9916"]},
            "legend": {"title": "Treatment", "orient": "none", "legendX": 656, "legendY": 203,
              "symbolType": "M-1,0H1M0.42,0A0.42,0.42,0,1,1,-0.42,0A0.42,0.42,0,1,1,0.42,0",
              "symbolSize": 450, "symbolStrokeWidth": 2.5,
              "encode": {"symbols": {"update": {"stroke": {"scale": "color", "field": "value"}, "fill": {"scale": "color", "field": "value"}, "strokeWidth": {"value": 2.5}}}}}},
          "strokeDash": {"field": "p", "type": "nominal",
            "scale": {"domain": ["Individual", "Population"], "range": [[1, 0], [8, 6]]},
            "legend": {"title": "Prediction", "orient": "none", "legendX": 656, "legendY": 333,
              "symbolType": "stroke", "symbolStrokeColor": "black", "symbolStrokeWidth": 2.5, "symbolSize": 400, "symbolDash": [6, 5]}}
        }
      },
      {
        "transform": [{"filter": "datum.k == 'lloq'"}],
        "mark": {"type": "rule", "color": "black", "strokeWidth": 3, "strokeDash": [15, 8, 3, 8]},
        "encoding": {"y": {"field": "v", "type": "quantitative"}}
      },
      {
        "transform": [{"filter": "datum.k == 'lloq'"}],
        "mark": {"type": "text", "color": "black", "fontSize": 14, "dy": -17, "text": "LLOQ=10p/mL"},
        "encoding": {"x": {"datum": 22}, "y": {"field": "v", "type": "quantitative"}}
      }
    ]
  }
}
